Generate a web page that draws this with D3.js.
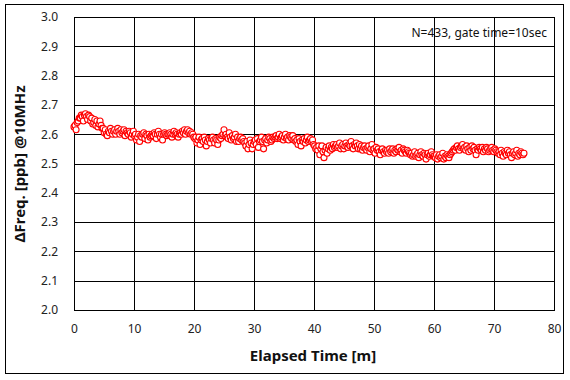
<!DOCTYPE html>
<html><head><meta charset="utf-8">
<script src="https://cdn.jsdelivr.net/npm/d3@7"></script>
<style>body{margin:0;background:#fff}svg{display:block}text{font-family:"Noto Sans","Open Sans",sans-serif}</style>
</head><body><svg id="c" width="570" height="380"></svg>
<script>
// Data (433 samples, gate 10 s, elapsed 0..75 min)
const startTime = 0;
const endTime = 75;
const freq = [
 2.625,2.63,2.615,2.64,2.645,2.655,
 2.655,2.665,2.66,2.645,2.665,2.67,2.66,2.65,2.665,2.66,
 2.645,2.655,2.635,2.64,2.65,2.63,2.645,2.625,2.635,2.645,2.63,2.62,
 2.62,2.605,2.615,2.6,2.595,2.61,2.605,2.62,2.61,2.6,
 2.61,2.615,2.6,2.61,2.62,2.61,2.6,2.615,2.605,2.61,2.615,2.595,2.61,2.605,2.6,2.61,2.605,2.59,2.6,2.61,
 2.595,2.6,2.58,2.59,2.6,2.575,2.595,2.59,2.6,2.605,2.585,2.6,2.595,2.58,2.6,2.59,2.595,
 2.6,2.595,2.605,2.6,2.585,2.6,2.61,2.6,2.59,2.6,2.58,2.6,2.605,2.6,2.595,2.6,2.6,2.605,2.6,2.59,2.6,2.61,2.6,2.605,2.6,2.59,2.6,2.605,2.6,
 2.61,2.605,2.615,2.6,2.61,2.615,2.605,2.61,2.6,2.605,2.6,2.59,
 2.585,2.59,2.57,2.58,2.59,2.565,2.58,2.585,2.575,2.59,2.58,2.56,2.575,2.585,2.58,2.57,2.585,2.59,2.58,2.57,2.585,2.58,2.565,2.58,2.59,2.585,2.595,2.6,2.615,
 2.595,2.6,2.59,2.585,2.605,2.59,2.58,2.595,2.585,2.59,2.6,2.575,2.59,2.575,2.585,2.59,2.58,2.585,2.575,2.57,
 2.56,2.575,2.55,2.565,2.58,2.57,2.55,2.565,
 2.575,2.58,2.565,2.585,2.555,2.575,2.58,2.59,2.575,2.55,2.58,2.585,2.57,2.58,2.59,2.585,2.575,2.58,2.59,2.585,
 2.59,2.595,2.585,2.59,2.6,2.585,2.59,2.595,2.58,2.59,2.6,2.585,2.59,2.58,2.595,2.59,2.585,2.595,2.58,
 2.585,2.575,2.58,2.565,2.585,2.575,2.56,2.58,2.575,2.585,2.57,2.58,2.59,2.575,2.58,2.585,2.575,2.58,2.565,
 2.56,2.55,2.555,2.545,2.56,2.53,2.55,2.56,2.54,2.52,2.545,2.555,2.535,2.55,2.56,2.545,2.555,2.55,2.565,2.555,
 2.56,2.565,2.555,2.56,2.57,2.55,2.56,2.565,2.55,2.56,2.57,2.56,2.555,2.565,2.56,2.575,2.56,2.55,2.565,2.56,2.57,2.56,2.55,2.565,2.55,2.56,2.545,2.555,2.56,
 2.55,2.545,2.555,2.56,2.54,2.55,2.565,2.545,2.55,2.535,2.555,2.545,2.55,2.54,2.53,2.545,2.55,2.54,2.535,2.545,
 2.54,2.545,2.535,2.55,2.54,2.545,2.55,2.535,2.545,2.54,2.55,2.545,2.555,2.54,2.545,2.535,2.55,2.545,2.54,2.535,2.545,2.54,2.535,
 2.53,2.535,2.525,2.53,2.54,2.525,2.53,2.535,2.52,2.53,2.54,2.53,2.525,2.535,2.53,2.515,2.53,2.535,2.525,2.53,2.54,2.53,2.525,
 2.525,2.52,2.53,2.515,2.525,2.53,2.52,2.525,2.535,2.515,2.525,2.52,2.53,2.525,2.52,2.53,2.535,
 2.54,2.545,2.55,2.545,2.555,2.56,2.55,2.545,2.555,2.56,2.565,2.55,2.555,2.545,2.56,2.55,2.54,2.555,2.545,2.56,2.55,2.555,2.545,2.53,2.55,2.545,2.555,
 2.55,2.545,2.555,2.54,2.55,2.545,2.555,2.55,2.54,2.545,2.55,2.555,2.545,2.54,2.55,2.545,2.54,
 2.535,2.54,2.53,2.545,2.535,2.525,2.54,2.535,2.53,2.545,2.535,2.54,2.53,2.52,2.535,2.54,2.53,2.535,2.545,2.525,2.535,2.53,2.54,2.535,2.53,2.535
];
const xTicks = [0,10,20,30,40,50,60,70,80];
const yTicks = [2.0,2.1,2.2,2.3,2.4,2.5,2.6,2.7,2.8,2.9,3.0];
const xTitle = "Elapsed Time [m]";
const yTitle = "\u0394Freq. [ppb] @10MHz";
const note = "N=433, gate time=10sec";

const step = (endTime - startTime) / (freq.length - 1);
const points = freq.map((v, i) => ({t: startTime + i * step, v}));

const svg = d3.select("#c");
const L = 74, R = 554, T = 17, B = 310;
const x = d3.scaleLinear().domain([0, 80]).range([L, R]);
const y = d3.scaleLinear().domain([2.0, 3.0]).range([B, T]);

svg.append("rect").attr("x", 5.5).attr("y", 4.5).attr("width", 558).attr("height", 369)
  .attr("fill", "#fff").attr("stroke", "#000").attr("stroke-width", 1);

// grid
const g = svg.append("g").attr("shape-rendering", "crispEdges");
g.selectAll(".vg").data(xTicks).enter().append("line")
  .attr("x1", d => Math.round(x(d)) + 0.5).attr("x2", d => Math.round(x(d)) + 0.5)
  .attr("y1", T).attr("y2", B + 0.5).attr("stroke", "#000").attr("stroke-width", 1);
g.selectAll(".hg").data(yTicks).enter().append("line")
  .attr("y1", d => Math.round(y(d)) + 0.5).attr("y2", d => Math.round(y(d)) + 0.5)
  .attr("x1", L).attr("x2", R + 1).attr("stroke", "#000").attr("stroke-width", 1);

// axes labels via d3 axes
const xAxis = svg.append("g").attr("transform", `translate(0,${B})`)
  .call(d3.axisBottom(x).tickValues(xTicks).tickSize(0).tickPadding(14).tickFormat(d3.format("d")));
const yAxis = svg.append("g").attr("transform", `translate(${L},0)`)
  .call(d3.axisLeft(y).tickValues(yTicks).tickSize(0).tickPadding(16).tickFormat(d3.format(".1f")));
[xAxis, yAxis].forEach(a => {
  a.select(".domain").remove();
  a.selectAll("text").attr("font-size", 12).attr("fill", "#222")
    .style("font-family", '"Noto Sans", sans-serif');
});

// note
svg.append("text").attr("x", 547).attr("y", 37).attr("text-anchor", "end")
  .attr("font-size", 12).attr("fill", "#111").text(note);

// points
svg.append("g").selectAll("circle").data(points).enter().append("circle")
  .attr("cx", d => x(d.t)).attr("cy", d => y(d.v)).attr("r", 3)
  .attr("fill", "#fff").attr("stroke", "#ff0000").attr("stroke-width", 1.1);

// titles
svg.append("text").attr("x", 313).attr("y", 361).attr("text-anchor", "middle")
  .attr("font-size", 15).attr("font-weight", "bold").attr("fill", "#111").text(xTitle);
svg.append("text").attr("transform", "translate(25,164) rotate(-90)").attr("text-anchor", "middle")
  .attr("font-size", 15).attr("font-weight", "bold").attr("fill", "#111").text(yTitle);
</script></body></html>
